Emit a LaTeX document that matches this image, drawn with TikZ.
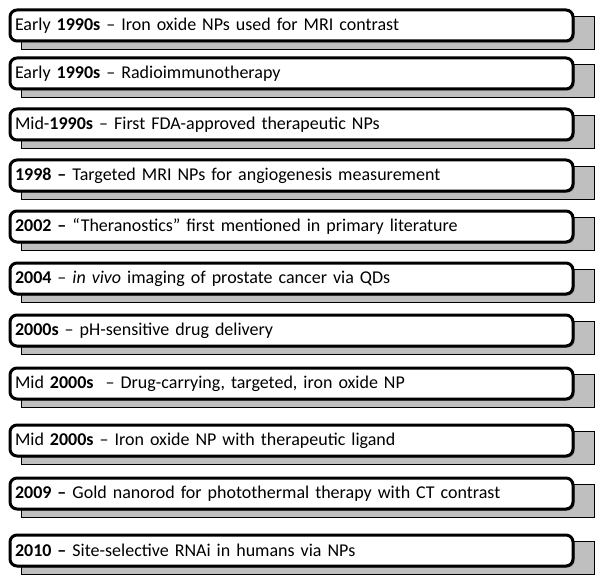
\documentclass[tikz,border=0pt]{standalone}
\usepackage{fontspec}
\setmainfont{Carlito}
\usetikzlibrary{shadows}
\tikzset{
  whitebox/.style={draw=black, line width=3bp, rounded corners=7bp, fill=white,
    minimum width=563bp, minimum height=31bp, inner xsep=5bp, inner ysep=0pt,
    text width=553bp, align=left, anchor=north west,
    drop shadow={shadow xshift=1.5bp, shadow yshift=-1.5bp, opacity=0.35, fill=black},
    font=\fontsize{18bp}{21bp}\selectfont},
  graybox/.style={draw=black, line width=0.8bp, fill=gray!50,
    minimum width=573bp, minimum height=33bp, inner sep=0pt, anchor=north west}
}
\begin{document}
\begin{tikzpicture}[x=1bp,y=-1bp]
\useasboundingbox (0,0) rectangle (600,580);
\foreach \i/\t in {1/7,2/55,3/106,4/157,5/208,6/260,7/312,8/365,9/422,10/475,11/532}{
  \node[graybox] (g\i) at (21,\t+9) {};
}
\node[whitebox] (b1) at (8.5,8.5) {Early \textbf{1990s} – Iron oxide NPs used for MRI contrast};
\node[whitebox] (b2) at (8.5,56.5) {Early \textbf{1990s} – Radioimmunotherapy};
\node[whitebox] (b3) at (8.5,107.5) {Mid-\textbf{1990s} – First FDA-approved therapeutic NPs};
\node[whitebox] (b4) at (8.5,158.5) {\textbf{1998 –} Targeted MRI NPs for angiogenesis measurement};
\node[whitebox] (b5) at (8.5,209.5) {\textbf{2002 –} “Theranostics” first mentioned in primary literature};
\node[whitebox] (b6) at (8.5,261.5) {\textbf{2004} – \textit{in vivo} imaging of prostate cancer via QDs};
\node[whitebox] (b7) at (8.5,313.5) {\textbf{2000s} – pH-sensitive drug delivery};
\node[whitebox] (b8) at (8.5,366.5) {Mid \textbf{2000s}\ \ – Drug-carrying, targeted, iron oxide NP};
\node[whitebox] (b9) at (8.5,423.5) {Mid \textbf{2000s} – Iron oxide NP with therapeutic ligand};
\node[whitebox] (b10) at (8.5,476.5) {\textbf{2009 –} Gold nanorod for photothermal therapy with CT contrast};
\node[whitebox] (b11) at (8.5,533.5) {\textbf{2010 –} Site-selective RNAi in humans via NPs};
\end{tikzpicture}
\end{document}
